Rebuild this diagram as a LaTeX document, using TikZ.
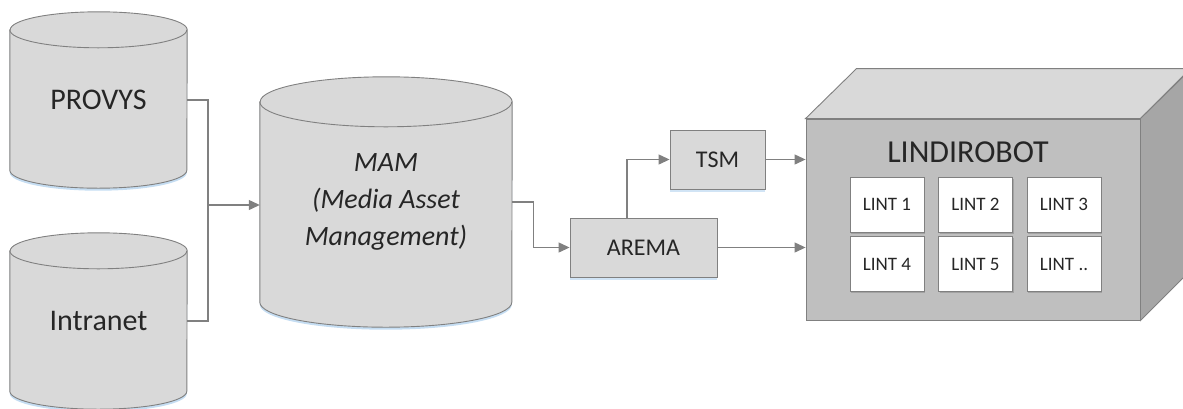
\documentclass[tikz,border=0pt]{standalone}
\usepackage{fontspec}
\setmainfont{Carlito}
\usetikzlibrary{shapes.geometric, arrows.meta, positioning, shadows, calc, backgrounds}
\definecolor{boxgray}{HTML}{D9D9D9}
\definecolor{edgegray}{HTML}{808080}
\definecolor{frontgray}{HTML}{BFBFBF}
\definecolor{sidegray}{HTML}{A6A6A6}
\definecolor{inkgray}{HTML}{262626}
\definecolor{glowblue}{HTML}{C5DDF2}

% cylinder round a body node: node name, x radius, y radius
\newcommand{\drawdb}[3]{%
    \begin{scope}[on background layer]
        \fill[glowblue] ([yshift=-2.5pt]#1.north west) -- ([yshift=-2.5pt]#1.south west) arc[start angle=180, end angle=0, x radius=#2, y radius=#3] -- ([yshift=-2.5pt]#1.north east) -- cycle;
        \draw[dbline, fill=boxgray] (#1.north west) -- (#1.south west) arc[start angle=180, end angle=0, x radius=#2, y radius=#3] -- (#1.north east) arc[start angle=0, end angle=-180, x radius=#2, y radius=#3] -- cycle;
        \draw[dbline] (#1.north west) arc[start angle=180, end angle=0, x radius=#2, y radius=#3];
    \end{scope}}

\begin{document}
\begin{tikzpicture}[x=1pt, y=-1pt,
        glow/.style={drop shadow={shadow xshift=0pt, shadow yshift=-2.5pt, fill=glowblue, opacity=0.8}},
        dbline/.style={draw=edgegray, line width=0.9pt},
        db/.style={rectangle, inner sep=0pt, text=inkgray, align=center},
        unit/.style={rectangle, draw=edgegray, fill=boxgray, line width=0.9pt, glow, minimum height=59pt, font=\fontsize{24}{28}\selectfont, text=inkgray},
        lint/.style={rectangle, draw=edgegray, fill=white, line width=0.8pt, minimum width=74pt, minimum height=55pt, font=\fontsize{19}{22}\selectfont, text=inkgray, drop shadow={shadow xshift=1pt, shadow yshift=-1.5pt, fill=black, opacity=0.15}},
        conn/.style={draw=edgegray, line width=1.2pt},
        arrow/.style={conn, -{Triangle[length=11pt, width=10pt]}, edgegray}
    ]
        \useasboundingbox (0,0) rectangle (1183,408);

        % databases
        \node[db, minimum width=177pt, minimum height=140pt, font=\fontsize{30}{34}\selectfont] (provys) at (98.5,100) {PROVYS};
        \drawdb{provys}{88.5}{18}
        \node[db, minimum width=177pt, minimum height=140pt, font=\fontsize{30}{34}\selectfont] (intranet) at (98.5,321) {Intranet};
        \drawdb{intranet}{88.5}{18}
        \node[db, minimum width=252pt, minimum height=200pt, font=\fontsize{28}{37}\selectfont\itshape] (mam) at (386,202) {MAM\\(Media Asset\\Management)};
        \drawdb{mam}{126}{25}

        % processing
        \node[unit, minimum width=147pt] (arema) at (643.5,247.5) {AREMA};
        \node[unit, minimum width=95pt] (tsm) at (717.5,159.5) {TSM};

        % robot box
        \node[rectangle, draw=edgegray, fill=frontgray, line width=0.9pt, minimum width=334pt, minimum height=201pt] (robot) at (973,219.5) {};
        \draw[edgegray, fill=boxgray, line width=0.9pt] (robot.north west) -- ++(51,-50) -- ++(334,0) -- (robot.north east) -- cycle;
        \draw[edgegray, fill=sidegray, line width=0.9pt] (robot.north east) -- ++(51,-50) -- ++(0,201) -- (robot.south east) -- cycle;
        \node[font=\fontsize{32}{36}\selectfont, text=inkgray] (robotlabel) at (968,152) {LINDIROBOT};

        \node[lint] (lint1) at (887,204.5) {LINT 1};
        \node[lint] (lint2) at (975.5,204.5) {LINT 2};
        \node[lint] (lint3) at (1064,204.5) {LINT 3};
        \node[lint] (lint4) at (887,264) {LINT 4};
        \node[lint] (lint5) at (975.5,264) {LINT 5};
        \node[lint] (lint6) at (1064,264) {LINT ..};

        % connectors
        \coordinate (join) at (208,205);
        \draw[conn] (provys.east) -| (join) |- (intranet.east);
        \draw[arrow] (join) -- (join -| mam.west);
        \draw[arrow] (mam.east) -- ++(21,0) |- (arema.west);
        \draw[arrow] ([xshift=-16.5pt]arema.north) |- (tsm.west);
        \draw[arrow] (tsm.east) -- (tsm.east -| robot.west);
        \draw[arrow] (arema.east) -- (arema.east -| robot.west);
    \end{tikzpicture}
\end{document}
